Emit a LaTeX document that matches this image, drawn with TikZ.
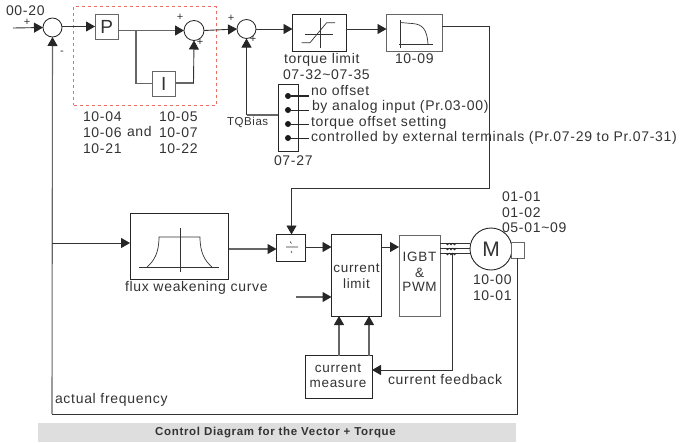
\documentclass[tikz,border=0pt]{standalone}
\usepackage{fontspec}
\setmainfont[LetterSpace=5]{Liberation Sans}
\newfontfamily\capfont[LetterSpace=6]{Liberation Sans}
\usetikzlibrary{arrows.meta}
\definecolor{ln}{gray}{0.2}
\definecolor{tx}{gray}{0.2}
\tikzset{
  x=1pt,y=-1pt,
  every node/.style={inner sep=0pt,outer sep=0pt,text=tx},
  wire/.style={draw=ln,line width=0.9pt},
  grayw/.style={draw=black!60,line width=1.1pt},
  arr/.style={wire,-{Triangle[length=9pt,width=10pt,color=black!85]}},
  garr/.style={grayw,-{Triangle[length=9pt,width=10pt,color=black!85]}},
  boxg/.style={draw=black!60,line width=1pt,fill=white},
  boxk/.style={draw=black!85,line width=0.8pt,fill=white},
  sumc/.style={circle,draw=black!85,line width=0.8pt,minimum size=19pt},
  lab/.style={font=\fontsize{14}{15}\selectfont,anchor=west},
  cl/.style={font=\fontsize{13.5}{15}\selectfont},
  sgn/.style={font=\fontsize{11}{11}\selectfont},
  dotm/.style={circle,fill=black!90,minimum width=6pt,minimum height=6pt},
}
\newcommand{\bx}[6]{\node[#1,minimum width=#4 pt,minimum height=#5 pt,anchor=north west] (#2) at #3 {#6};}
\begin{document}
\begin{tikzpicture}
\useasboundingbox (0,0) rectangle (685,442);
% dashed frame
\node[draw={rgb,255:red,235;green,110;blue,100},dashed,line width=1pt,minimum width=142.5pt,minimum height=98.5pt,anchor=north west] (frame) at (73.5,6.5) {};
% junctions
\node[sumc] (s1) at (52.5,27.5) {};
\node[sumc,minimum size=20pt] (s2) at (194,30.5) {};
\node[sumc] (s3) at (246.5,29) {};
% boxes
\bx{boxg}{P}{(95,14)}{23.5}{25}{\fontsize{19}{20}\selectfont P}
\bx{boxg}{I}{(152,71)}{23.5}{25}{\fontsize{19}{20}\selectfont I}
\bx{boxk}{lim}{(292.5,14)}{53.5}{37}{}
\bx{boxg}{fw}{(386.5,14)}{55.5}{37}{}
\bx{boxk}{selbox}{(278,84)}{20}{67}{}
\bx{boxk}{flux}{(130,213.5)}{98.5}{65.5}{}
\bx{boxk}{sw}{(276.5,234.5)}{28.5}{26.5}{}
\bx{boxk}{cl}{(331.5,234.5)}{50}{81.5}{}
\bx{boxg}{igbt}{(399,235)}{41}{81}{}
\bx{boxk}{cm}{(305,355.5)}{67}{42.5}{}
\node[circle,draw=black!85,line width=0.9pt,fill=white,minimum size=42pt] (M) at (491,249) {\fontsize{21}{22}\selectfont M};
\bx{boxg}{enc}{(511,242)}{13}{16}{}
% coordinates
\coordinate (in) at (13,28);
\coordinate (b1) at (136,30);
\coordinate (ic) at (136,83);
\coordinate (ic2) at (193.5,83);
\coordinate (tq) at (246.5,115);
\coordinate (c1) at (489,26);
\coordinate (c2) at (489,188);
\coordinate (c3) at (291.5,188);
\coordinate (ff) at (52,243);
\coordinate (clin) at (296,297);
\coordinate (fb) at (452.5,253);
\coordinate (fb2) at (452.5,370);
\coordinate (bl) at (52,414);
\coordinate (br) at (517,414);
% connectors
\draw[arr] (in) -- (s1.west);
\draw[arr] (s1.east |- P.west) -- (P.west);
\draw[garr] (P.east |- s2.west) -- (s2.west);
\draw[grayw] (b1) |- (I.west);
\draw[grayw] (I.east |- ic2) -| (ic2) ;
\draw[arr] (ic2) -- (s2.south);
\draw[arr] (s2.east) -- (s3.west);
\draw[arr] (s3.east) -- (lim.west |- s3.east);
\draw[arr] (lim.east |- 0,29) -- (fw.west |- 0,29);
\draw[wire] (fw.east |- c1) -- (c1) -- (c2) -- (c3);
\draw[arr] (c3) -- (sw.north -| c3);
\draw[grayw] (selbox.west |- tq) -- (tq);
\draw[arr] (tq) -- (s3.south);
\draw[garr] (bl) -- (s1.south);
\draw[wire] (bl) -- (br) -- (enc.south -| br);
\draw[arr] (ff) -- (flux.west |- ff);
\draw[garr] (flux.east |- 0,249) -- (sw.west |- 0,249);
\draw[arr] (sw.east |- 0,247) -- (cl.west |- 0,247);
\draw[arr] (cl.east |- 0,247) -- (igbt.west |- 0,247);
\draw[garr] (clin) -- (cl.west |- clin);
\draw[garr] (cm.north -| 339,0) -- (cl.south -| 339,0);
\draw[garr] (cm.north -| 369,0) -- (cl.south -| 369,0);
\draw[wire] (igbt.east |- 0,243) -- (M.west |- 0,243);
\draw[wire] (igbt.east |- 0,248) -- (M.west |- 0,248);
\draw[wire] (igbt.east |- 0,253) -- (M.west |- 0,253);
\draw[wire] (fb) -- (fb2);
\draw[arr] (fb2) -- (cm.east |- fb2);
% selector
\foreach \n/\y/\w in {a/96/1.6pt,b/110/0.9pt,c/124/0.9pt,d/138/0.9pt}{
  \node[dotm] (dot\n) at (288,\y) {};
  \coordinate (end\n) at (309,\y);
  \draw[draw=black!85,line width=\w] (dot\n) -- (end\n);
}
% limiter icon
\draw[wire,line width=0.7pt] (305,34) -- (333,34) (320,18) -- (320,48);
\draw[wire,line width=0.7pt] (301.7,42.7) -- (310,42.7) -- (326.7,22.7) -- (335,22.7);
% 10-09 icon
\draw[wire,line width=0.7pt] (400,20) -- (400,48) (399,44) -- (433,44);
\draw[wire,line width=0.7pt] (400,22.5) -- (412,23.5) .. controls (423,24) and (427,30) .. (428,44);
% flux icon
\draw[wire,line width=0.7pt] (139,267) -- (219,267) (180.5,228) -- (180.5,272);
\draw[wire,line width=0.7pt] (147,267) .. controls (154,261) and (159,253) .. (159,237) -- (200,237) .. controls (200,253) and (205,261) .. (212,267);
% switch icon
\draw[wire,line width=0.6pt] (286,247) -- (298,247) (290,241.5) -- (291.5,243.5) (291,251) -- (292,253);
% coils
\foreach \y in {243,248,253}{
  \foreach \x in {447.5,451,454.5}{
    \draw[black!85,line width=0.7pt] (\x-1.8,\y) arc[start angle=180,end angle=0,radius=1.8];
  }
}
% signs
\node[sgn] at (27,22) {+};
\node[sgn] at (62,53) {-};
\node[sgn] at (180,17) {+};
\node[sgn] at (200,42) {+};
\node[sgn] at (231,18) {+};
\node[sgn] at (253,39) {+};
% text
\node[lab] (t1) at (6,11) {00-20};
\node[lab] at (83,117) {10-04};
\node[lab] at (83,133) {10-06};
\node[lab] at (83,149) {10-21};
\node[lab] at (127,131) {and};
\node[lab] at (159,117) {10-05};
\node[lab] at (159,133) {10-07};
\node[lab] at (159,149) {10-22};
\node[lab,font=\fontsize{11.5}{12}\selectfont] at (227,122) {TQBias};
\node[lab] at (284,60) {torque limit};
\node[lab] at (283,75) {07-32\char`\~07-35};
\node[lab] at (395,59) {10-09};
\node[lab] at (311,91) {no offset};
\node[lab] at (312,107) {by analog input  (Pr.03-00)};
\node[lab] at (311,123) {torque offset setting};
\node[lab] at (311,138) {controlled by external  terminals (Pr.07-29 to Pr.07-31)};
\node[lab] at (274,161) {07-27};
\node[lab] at (125,288) {flux weakening curve};
\node[cl] at (356.5,268) {current};
\node[cl] at (356.5,284) {limit};
\node[cl] at (419.5,257) {IGBT};
\node[cl] at (419.5,273) {\&};
\node[cl] at (419.5,287) {PWM};
\node[cl] at (338,368) {current};
\node[cl] at (338,384) {measure};
\node[lab] at (388,379) {current feedback};
\node[lab] at (473,280) {10-00};
\node[lab] at (473,296) {10-01};
\node[lab] at (502,197) {01-01};
\node[lab] at (502,213) {01-02};
\node[lab] at (502,228) {05-01\char`\~09};
\node[lab] at (55,400) {actual frequency};
\node[fill=black!13,minimum width=478pt,minimum height=19pt,anchor=north west] (bar) at (38,423) {};
\node[font=\capfont\bfseries\fontsize{11.5}{12}\selectfont] at (275.5,432.5) {Control Diagram for the Vector + Torque};
\end{tikzpicture}
\end{document}
